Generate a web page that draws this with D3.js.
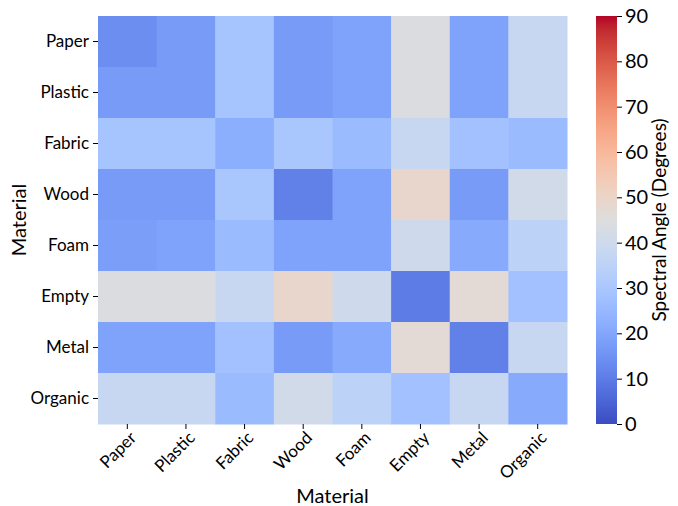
<!DOCTYPE html>
<html><head><meta charset="utf-8">
<script src="https://cdn.jsdelivr.net/npm/d3@7"></script>
<style>body{margin:0;background:#fff}svg{display:block}text{font-family:Lato,"Open Sans",sans-serif;fill:#000}</style>
</head><body>
<script>
const categories = ["Paper","Plastic","Fabric","Wood","Foam","Empty","Metal","Organic"];
const row_Paper   = [14,17,29,17,19,44,19,38];
const row_Plastic = [17,17,29,17,19,44,19,38];
const row_Fabric  = [29,29,22,30,26,38,28,26];
const row_Wood    = [17,17,30,11,19,49,17,41];
const row_Foam    = [18,19,26,19,19,40,21,35];
const row_Empty   = [44,44,38,49,40,10,47,28];
const row_Metal   = [19,19,28,17,21,47,11,38];
const row_Organic = [38,38,26,41,35,28,38,21];
const values = [row_Paper,row_Plastic,row_Fabric,row_Wood,row_Foam,row_Empty,row_Metal,row_Organic];
const cbTicks = [0,10,20,30,40,50,60,70,80,90];

const cw = [[0.2298,0.2987,0.7537],[0.2662,0.3531,0.8015],[0.3039,0.4065,0.8450],[0.3428,0.4588,0.8837],[0.3830,0.5094,0.9174],[0.4244,0.5581,0.9456],[0.4667,0.6046,0.9682],[0.5096,0.6483,0.9848],[0.5530,0.6889,0.9954],[0.5963,0.7261,0.9998],[0.6392,0.7596,0.9982],[0.6813,0.7890,0.9904],[0.7222,0.8140,0.9766],[0.7615,0.8343,0.9569],[0.7987,0.8498,0.9317],[0.8335,0.8602,0.9011],[0.8654,0.8654,0.8654],[0.8978,0.8489,0.8209],[0.9241,0.8274,0.7745],[0.9445,0.8009,0.7267],[0.9589,0.7698,0.6780],[0.9673,0.7341,0.6288],[0.9700,0.6943,0.5794],[0.9668,0.6504,0.5303],[0.9580,0.6028,0.4818],[0.9437,0.5518,0.4342],[0.9239,0.4973,0.3880],[0.8990,0.4396,0.3432],[0.8692,0.3783,0.3003],[0.8346,0.3129,0.2593],[0.7956,0.2413,0.2205],[0.7525,0.1572,0.1841],[0.7057,0.0156,0.1502]];
const coolwarm = d3.scaleLinear().domain(cw.map((d,i)=>i/(cw.length-1))).range(cw.map(c=>d3.rgb(c[0]*255,c[1]*255,c[2]*255))).interpolate(d3.interpolateRgb).clamp(true);
const vmin=0, vmax=90;
const color = v => coolwarm((v-vmin)/(vmax-vmin));

const W=678,H=506;
const svg=d3.select("body").append("svg").attr("width",W).attr("height",H);
const L=98,R=567,T=16,B=424;
const x=d3.scaleBand().domain(categories).range([L,R]);
const y=d3.scaleBand().domain(categories).range([T,B]);

const g=svg.append("g");
values.forEach((row,i)=>{
  row.forEach((v,j)=>{
    g.append("rect").attr("x",x(categories[j])).attr("y",y(categories[i]))
     .attr("width",x.bandwidth()+0.5).attr("height",y.bandwidth()+0.5).attr("fill",color(v));
  });
});

const fs=17;
const yAxis=svg.append("g").attr("transform",`translate(${L},0)`).call(d3.axisLeft(y).tickSize(5).tickPadding(4));
yAxis.select(".domain").remove();
yAxis.selectAll("text").style("font-size",fs+"px");
const xAxis=svg.append("g").attr("transform",`translate(0,${B})`).call(d3.axisBottom(x).tickSize(5).tickPadding(4));
xAxis.select(".domain").remove();
xAxis.selectAll("text").style("font-size",fs+"px").attr("text-anchor","end")
  .attr("transform","translate(3,5) rotate(-45)").attr("dy","0.35em").attr("y",6).attr("x",-2);

svg.append("text").attr("x",(L+R)/2).attr("y",503).attr("text-anchor","middle").style("font-size","20px").text("Material");
svg.append("text").attr("transform",`translate(26,${(T+B)/2}) rotate(-90)`).attr("text-anchor","middle").style("font-size","20px").text("Material");

// colorbar
const cbX=596,cbW=21;
const cbY=d3.scaleLinear().domain([vmin,vmax]).range([B,T]);
const defs=svg.append("defs");
const grad=defs.append("linearGradient").attr("id","cb").attr("x1",0).attr("y1",1).attr("x2",0).attr("y2",0);
d3.range(0,1.0001,1/64).forEach(t=>grad.append("stop").attr("offset",t).attr("stop-color",coolwarm(t)));
svg.append("rect").attr("x",cbX).attr("y",T).attr("width",cbW).attr("height",B-T).attr("fill","url(#cb)");
const cbAxis=svg.append("g").attr("transform",`translate(${cbX+cbW},0)`).call(d3.axisRight(cbY).tickValues(cbTicks).tickSize(5).tickPadding(3));
cbAxis.select(".domain").remove();
cbAxis.selectAll("text").style("font-size","20px");
svg.append("text").attr("transform",`translate(666,${(T+B)/2}) rotate(-90)`).attr("text-anchor","middle").style("font-size","19px").text("Spectral Angle (Degrees)");
</script>
</body></html>
